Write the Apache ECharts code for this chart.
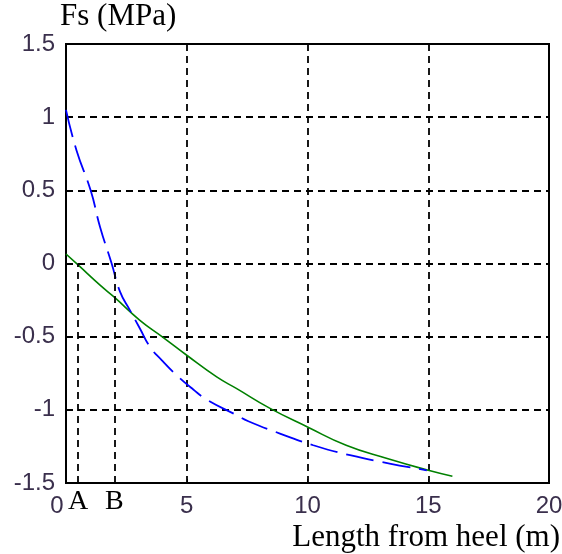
<!DOCTYPE html>
<html>
<head>
<meta charset="utf-8">
<script src="https://cdn.jsdelivr.net/npm/echarts@6/dist/echarts.min.js"></script>
<style>html,body{margin:0;padding:0;background:#fff;}#c{width:562px;height:554px;}</style>
</head>
<body>
<div id="c"></div>
<script>
// ---- data ----
var greenX = [0, 0.5, 1.41, 2, 3.06, 4.03, 5, 6.24, 7.07, 8.45, 10, 11.6, 13.3, 15, 16];
var greenY = [0.065, -0.01, -0.148, -0.23, -0.388, -0.506, -0.627, -0.775, -0.855, -0.99, -1.117, -1.242, -1.333, -1.413, -1.454];
var blueX = [0, 0.44, 1.02, 1.41, 1.89, 2.24, 2.65, 3.06, 3.48, 3.96, 4.58, 5.27, 5.83, 7.07, 7.55, 8.86, 10.24, 11.76, 13.4, 14.94];
var blueY = [1.05, 0.77, 0.5, 0.25, 0.0, -0.194, -0.32, -0.444, -0.57, -0.66, -0.763, -0.861, -0.93, -1.037, -1.078, -1.162, -1.242, -1.31, -1.367, -1.413];
var xTickValues = [0, 0.5, 2, 5, 10, 15, 20];
var xTickLabels = ['0', 'A', 'B', '5', '10', '15', '20'];
var markerX = [0.5, 2];   // A, B
var markerTop = 0;

function pairs(xs, ys) { return xs.map(function (x, i) { return [x, ys[i]]; }); }

var chart = echarts.init(document.getElementById('c'), null, { renderer: 'canvas' });
var labelColor = '#3a2f4c';
var gridLine = { show: true, lineStyle: { color: '#000', type: [7, 5], width: 1.8 } };

chart.setOption({
  animation: false,
  backgroundColor: '#fff',
  grid: { left: 66, top: 44, right: 13, bottom: 71, show: true, borderColor: '#000', borderWidth: 2, outerBoundsMode: 'none', containLabel: false },
  xAxis: {
    type: 'value', min: 0, max: 20, interval: 5,
    axisLine: { show: true, onZero: false, lineStyle: { color: '#000', width: 2 } },
    axisTick: { show: true, inside: true, length: 4, lineStyle: { color: '#000', width: 1 } },
    splitLine: gridLine,
    axisLabel: {
      customValues: xTickValues,
      margin: 11,
      color: labelColor,
      fontFamily: 'Liberation Sans',
      fontSize: 24,
      formatter: function (v) {
        var i = xTickValues.indexOf(v);
        var t = i >= 0 ? xTickLabels[i] : String(v);
        if (t === 'A' || t === 'B') return '{ser|' + t + '}';
        if (v === 0) return '{z|' + t + '}';
        return t;
      },
      rich: {
        ser: { fontFamily: 'Liberation Serif', fontSize: 28, color: '#000', padding: [-6, 0, 0, 0] },
        z: { fontFamily: 'Liberation Sans', fontSize: 24, color: labelColor, padding: [0, 18, 0, 0] }
      }
    },
    name: 'Length from heel (m)',
    nameLocation: 'end',
    nameGap: 11,
    nameTextStyle: { fontFamily: 'Liberation Serif', fontSize: 31, color: '#000', align: 'right', verticalAlign: 'top', padding: [39, 0, 0, 0] }
  },
  yAxis: {
    type: 'value', min: -1.5, max: 1.5, interval: 0.5,
    axisLine: { show: true, onZero: false, lineStyle: { color: '#000', width: 2 } },
    axisTick: { show: true, inside: true, length: 4, lineStyle: { color: '#000', width: 1 } },
    splitLine: gridLine,
    axisLabel: { margin: 11, color: labelColor, fontFamily: 'Liberation Sans', fontSize: 24 },
    name: 'Fs (MPa)',
    nameLocation: 'end',
    nameGap: -5,
    nameTextStyle: { fontFamily: 'Liberation Serif', fontSize: 31, color: '#000', align: 'left', padding: [0, 0, 0, -6] }
  },
  series: [
    {
      type: 'line', name: 'green', data: pairs(greenX, greenY), smooth: true, symbol: 'none',
      lineStyle: { color: '#008000', width: 1.6 },
      markLine: {
        silent: true, symbol: 'none', label: { show: false },
        lineStyle: { color: '#000', type: [7, 5], width: 1.8 },
        data: markerX.map(function (x) { return [{ coord: [x, -1.5] }, { coord: [x, markerTop] }]; })
      },
      z: 3
    },
    {
      type: 'line', name: 'blue', data: pairs(blueX, blueY), smooth: true, symbol: 'none',
      lineStyle: { color: '#0000ff', width: 1.8, type: [28, 9] },
      z: 4
    }
  ]
});
</script>
</body>
</html>
